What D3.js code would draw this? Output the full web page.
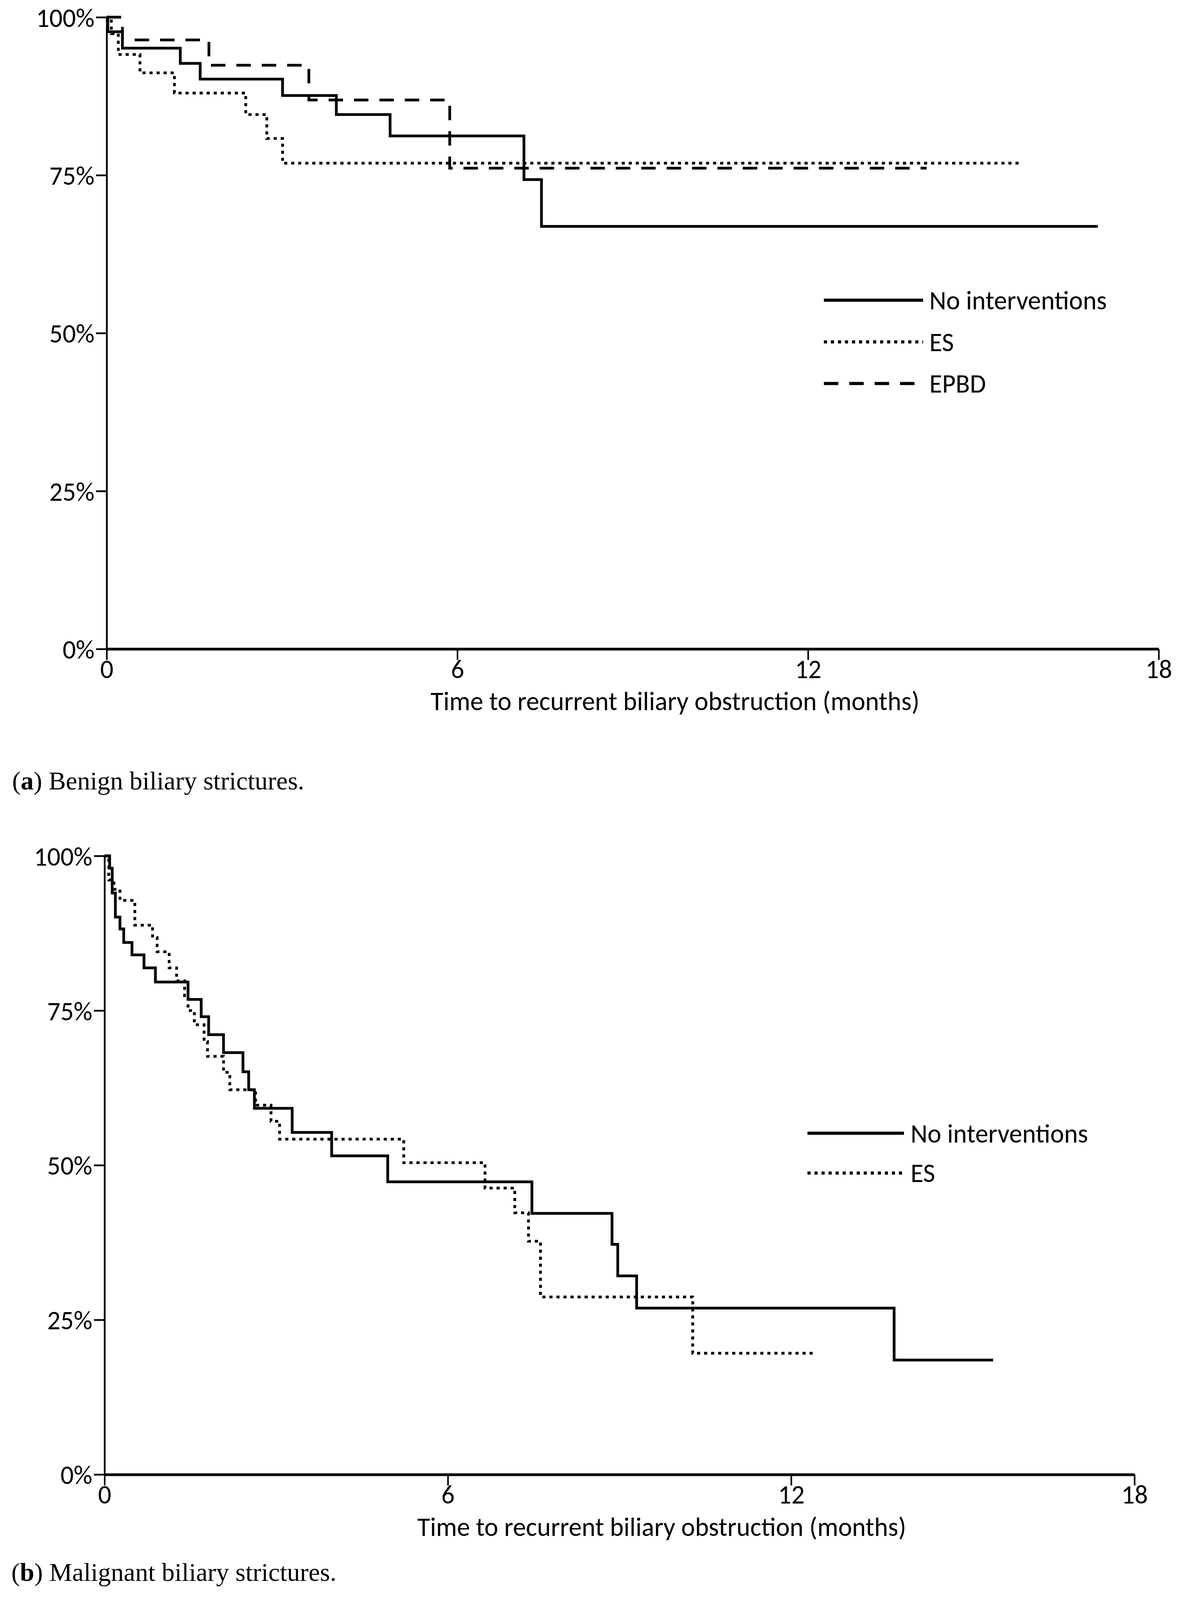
<!DOCTYPE html>
<html>
<head>
<meta charset="utf-8">
<script src="https://cdn.jsdelivr.net/npm/d3@7"></script>
<style>
  body { margin: 0; background: #fff; overflow: hidden; }
  svg { display: block; }
</style>
</head>
<body>
<svg id="km"></svg>
<script>
const monthTicks = [0, 6, 12, 18];
const pctTicks = [0, 25, 50, 75, 100];
const groupNames = ["No interventions", "ES", "EPBD"];

// (a) benign strictures (months, % free of obstruction)
const benignNoneTime = [0, 0.02, 0.27, 1.26, 1.60, 3.01, 3.93, 4.85, 7.14, 7.44, 16.96];
const benignNoneSurv = [100, 97.7, 95.1, 92.7, 90.2, 87.6, 84.6, 81.2, 74.3, 66.9, 66.9];
const benignEsTime = [0, 0.08, 0.20, 0.57, 1.16, 2.38, 2.74, 3.01, 15.61];
const benignEsSurv = [100, 97.4, 94.1, 91.2, 88.0, 84.6, 80.8, 76.9, 76.9];
const benignEpbdTime = [0, 0.27, 1.75, 3.46, 5.87, 14.03];
const benignEpbdSurv = [100, 96.4, 92.4, 86.9, 76.1, 76.1];

// (b) malignant strictures
const malignNoneTime = [0, 0.09, 0.135, 0.19, 0.27, 0.336, 0.48, 0.69, 0.89, 1.46, 1.69, 1.82, 2.08,
    2.42, 2.52, 2.62, 3.28, 3.97, 4.95, 7.47, 8.87, 8.97, 9.30, 13.8, 15.53];
const malignNoneSurv = [100, 98.0, 94.0, 90.1, 88.2, 86.0, 84.0, 81.9, 79.6, 76.8, 74.0, 71.1, 68.2,
    65.1, 62.2, 59.2, 55.3, 51.5, 47.3, 42.2, 37.2, 32.1, 26.9, 18.5, 18.5];
const malignEsTime = [0, 0.074, 0.165, 0.27, 0.53, 0.84, 0.92, 1.13, 1.26, 1.40, 1.46, 1.57, 1.74,
    1.80, 2.08, 2.19, 2.64, 2.91, 3.06, 5.23, 6.65, 7.17, 7.41, 7.62, 10.28, 12.4];
const malignEsSurv = [100, 96.1, 94.6, 92.8, 88.8, 86.8, 84.5, 81.9, 79.8, 77.4, 75.0, 72.7, 70.0,
    67.6, 65.0, 62.2, 59.7, 57.1, 54.2, 50.4, 46.3, 42.3, 37.7, 28.7, 19.6, 19.6];

const dashes = {"No interventions": null, "ES": "8,10", "EPBD": "37,28"};
const sansFont = "Carlito, Calibri, Lato, sans-serif";
const serifFont = "'Liberation Serif', 'Times New Roman', serif";
const axisTitle = "Time to recurrent biliary obstruction (months)";

// layout is given for a 3036 x 5111 page; if the window is shorter,
// squeeze the vertical positions so nothing gets cut off
const W = 3036, H = 5111;
const ky = (window.innerHeight > 0 && window.innerHeight < H) ? window.innerHeight / H : 1;
const fontSize = Math.round(75 * Math.sqrt(ky));
const capSize = Math.round(74 * Math.sqrt(ky));
const tickLabelY = 93 * ky;
const titleOffset = Math.max(185 * ky, tickLabelY + 1.2 * fontSize + 2);

const panels = [
    {
        left: 273, right: 2966, top: 55, bottom: 2073,
        series: [
            {name: groupNames[1], time: benignEsTime, surv: benignEsSurv},
            {name: groupNames[2], time: benignEpbdTime, surv: benignEpbdSurv},
            {name: groupNames[0], time: benignNoneTime, surv: benignNoneSurv}
        ],
        legend: {x0: 2109, x1: 2363, tx: 2379, y0: 959, step: 133, names: groupNames},
        titleX: 1728,
        letter: "a", caption: " Benign biliary strictures.", capX: 31, capY: 2522
    },
    {
        left: 267.5, right: 2904, top: 2734, bottom: 4710,
        series: [
            {name: groupNames[1], time: malignEsTime, surv: malignEsSurv},
            {name: groupNames[0], time: malignNoneTime, surv: malignNoneSurv}
        ],
        legend: {x0: 2067, x1: 2314, tx: 2331, y0: 3620, step: 127, names: groupNames.slice(0, 2)},
        titleX: 1694,
        letter: "b", caption: " Malignant biliary strictures.", capX: 29, capY: 5050
    }
];

const svg = d3.select("#km")
    .attr("width", W)
    .attr("height", Math.floor(H * ky));

panels.forEach(drawPanel);

function drawPanel(p) {
    const x = d3.scaleLinear().domain([0, 18]).range([p.left, p.right]);
    const y = d3.scaleLinear().domain([0, 100]).range([p.bottom * ky, p.top * ky]);
    const g = svg.append("g");

    const yAxis = g.append("g")
        .attr("transform", `translate(${p.left},0)`)
        .call(d3.axisLeft(y).tickValues(pctTicks).tickFormat(d => d + "%").tickSize(27).tickSizeOuter(0))
        .attr("font-family", sansFont)
        .attr("font-size", fontSize);
    yAxis.select(".domain").attr("stroke-width", 4.5);
    yAxis.selectAll(".tick line").attr("stroke-width", 4.5);
    yAxis.selectAll(".tick text").attr("x", -31).attr("dy", "0.36em");

    const xAxis = g.append("g")
        .attr("transform", `translate(0,${p.bottom * ky})`)
        .call(d3.axisBottom(x).tickValues(monthTicks).tickSize(35 * ky).tickSizeOuter(0))
        .attr("font-family", sansFont)
        .attr("font-size", fontSize);
    xAxis.select(".domain").attr("stroke-width", 7);
    xAxis.selectAll(".tick line").attr("stroke-width", 4);
    xAxis.selectAll(".tick text").attr("y", tickLabelY).attr("dy", null);

    g.append("text")
        .attr("x", p.titleX)
        .attr("y", p.bottom * ky + titleOffset)
        .attr("text-anchor", "middle")
        .attr("font-family", sansFont)
        .attr("font-size", fontSize)
        .text(axisTitle);

    const line = d3.line()
        .x(d => x(d[0]))
        .y(d => y(d[1]))
        .curve(d3.curveStepAfter);

    g.selectAll(".curve")
        .data(p.series)
        .enter()
        .append("path")
        .attr("class", "curve")
        .attr("fill", "none")
        .attr("stroke", "#000")
        .attr("stroke-width", 7)
        .attr("stroke-dasharray", d => dashes[d.name])
        .attr("d", d => line(d3.zip(d.time, d.surv)));

    // legend
    const lg = g.selectAll(".legend")
        .data(p.legend.names)
        .enter()
        .append("g")
        .attr("class", "legend")
        .attr("transform", (d, i) => `translate(0,${(p.legend.y0 + i * p.legend.step) * ky})`);

    lg.append("line")
        .attr("x1", p.legend.x0)
        .attr("x2", p.legend.x1)
        .attr("stroke", "#000")
        .attr("stroke-width", 8)
        .attr("stroke-dasharray", d => dashes[d]);

    lg.append("text")
        .attr("x", p.legend.tx)
        .attr("y", 0.35 * fontSize)
        .attr("font-family", sansFont)
        .attr("font-size", fontSize)
        .text(d => d);

    // caption below the panel
    const cap = g.append("text")
        .attr("x", p.capX)
        .attr("y", p.capY * ky)
        .attr("font-family", serifFont)
        .attr("font-size", capSize);
    cap.append("tspan").text("(");
    cap.append("tspan").attr("font-weight", "bold").text(p.letter);
    cap.append("tspan").text(")" + p.caption);
}
</script>
</body>
</html>
